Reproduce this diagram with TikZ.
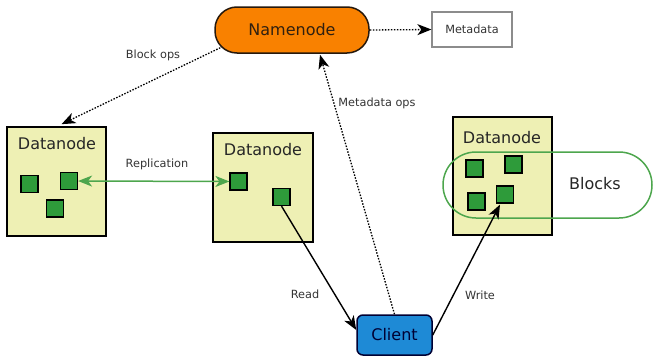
\documentclass[tikz,border=0pt]{standalone}
\usepackage{fontspec}
\setmainfont{DejaVu Sans}
\usetikzlibrary{arrows.meta}
\definecolor{nnorange}{HTML}{F98100}
\definecolor{dnfill}{HTML}{EEF0B4}
\definecolor{blkgreen}{HTML}{2E9B3A}
\definecolor{ringgreen}{HTML}{4DA64D}
\definecolor{clblue}{HTML}{1E8AD6}
\definecolor{lbl}{HTML}{333333}
\tikzset{
  bigtxt/.style={font=\fontsize{16}{19}\selectfont, text=black!85},
  smalltxt/.style={font=\fontsize{11.3}{13}\selectfont, text=lbl},
  dnbox/.style={draw=black, line width=1.6pt, fill=dnfill},
  blk/.style={draw=black, line width=1.2pt, fill=blkgreen, minimum size=17pt, inner sep=0pt},
  headtip/.style={-{Stealth[length=14pt,width=11pt,inset=4pt]}},
  dotarrow/.style={headtip, line width=1.3pt, dash pattern=on 1.5pt off 1.5pt},
  solidarrow/.style={headtip, line width=1.4pt},
}
\begin{document}
\begin{tikzpicture}[x=1pt,y=-1pt]
\useasboundingbox (0,0) rectangle (655,356);
% Namenode and metadata
\node[draw=black!80!brown, line width=1.5pt, fill=nnorange, rounded corners=22pt,
      minimum width=154pt, minimum height=46pt, bigtxt, text=black!75!brown] (nn) at (292,30) {Namenode};
\node[draw=black!45, line width=1.2pt, minimum width=80pt, minimum height=35pt,
      smalltxt] (meta) at (472,29.5) {Metadata};
% Datanodes
\node[dnbox, minimum width=99pt, minimum height=109pt] (dn1) at (56.5,181.5) {};
\node[dnbox, minimum width=100pt, minimum height=109pt] (dn2) at (263,187.5) {};
\node[dnbox, minimum width=99pt, minimum height=118pt] (dn3) at (502.5,176) {};
\node[bigtxt] (t1) at (57,144) {Datanode};
\node[bigtxt] (t2) at (263,150) {Datanode};
\node[bigtxt] (t3) at (502,138) {Datanode};
% Blocks ring
\node[draw=ringgreen, line width=1.5pt, rounded corners=33pt, minimum width=209pt,
      minimum height=66pt] (ring) at (547.5,185) {};
\node[bigtxt] (blocks) at (595,184) {Blocks};
% Squares
\node[blk] (s11) at (29.5,184) {};
\node[blk] (s12) at (69,181) {};
\node[blk] (s13) at (55,208.5) {};
\node[blk] (s21) at (238.5,181.5) {};
\node[blk] (s22) at (281.5,197) {};
\node[blk] (s31) at (474.5,168.5) {};
\node[blk] (s32) at (513.5,164.5) {};
\node[blk] (s33) at (476.5,201.5) {};
\node[blk] (s34) at (505,194.5) {};
% Client
\node[draw=black!80!blue, line width=1.5pt, fill=clblue, rounded corners=6pt,
      minimum width=75pt, minimum height=40pt, bigtxt, text=black!80!blue] (cl) at (394.5,335) {Client};
% Connectors
\draw[dotarrow] (nn.east) -- (meta.west);
\draw[dotarrow] ([xshift=6pt,yshift=6pt]nn.south west) -- ([xshift=5pt,yshift=2pt]dn1.north);
\draw[dotarrow] (cl.north) -- ([xshift=28pt,yshift=-1pt]nn.south);
\draw[{Stealth[length=14pt,width=11pt,inset=4pt]}-{Stealth[length=14pt,width=11pt,inset=4pt]}, draw=ringgreen, fill=ringgreen, line width=1.5pt] (s12.east) -- (s21.west);
\draw[solidarrow] (s22.south) -- ([yshift=5pt]cl.west);
\draw[solidarrow] (cl.east) -- ([xshift=-5pt,yshift=-1pt]s34.south);
% Labels
\node[smalltxt] (lbo) at (153,55) {Block ops};
\node[smalltxt] (lmo) at (377,103) {Metadata ops};
\node[smalltxt] (lrep) at (157,164) {Replication};
\node[smalltxt] (lrd) at (305,294) {Read};
\node[smalltxt] (lwr) at (480,295) {Write};
\end{tikzpicture}
\end{document}
